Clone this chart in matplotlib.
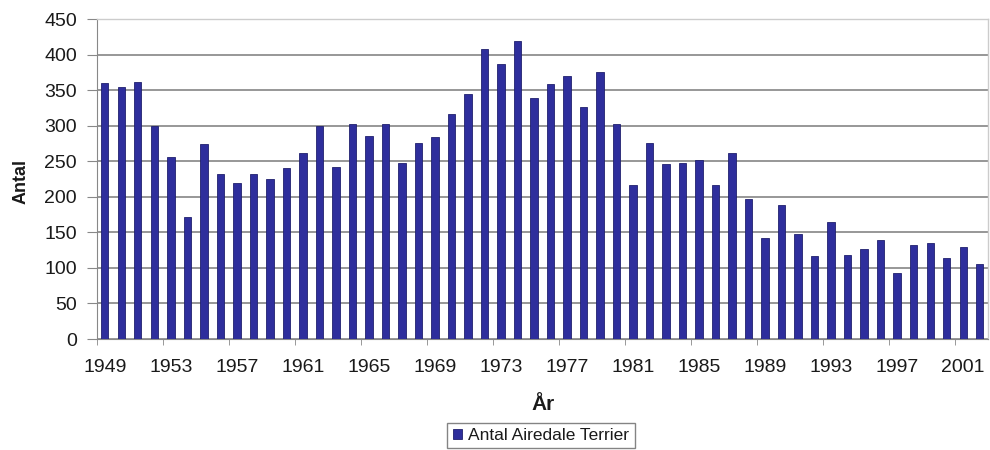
import matplotlib

matplotlib.use("Agg")
import matplotlib.pyplot as plt
import numpy as np
from matplotlib.ticker import FixedLocator

plt.rcParams["font.family"] = ["Liberation Sans", "DejaVu Sans"]

# Airedale terrier registrations per year
years = list(range(1949, 2003))
counts = [
    360, 355, 361, 300, 256, 171, 274, 232, 219, 232,
    225, 241, 261, 299, 242, 302, 286, 302, 247, 275,
    284, 317, 345, 408, 387, 419, 339, 359, 370, 326,
    375, 303, 217, 276, 246, 247, 252, 217, 261, 197,
    142, 189, 147, 117, 165, 118, 126, 139, 93, 132,
    135, 114, 129, 106,
]
y_ticks = [0, 50, 100, 150, 200, 250, 300, 350, 400, 450]
series_name = "Antal Airedale Terrier"

BAR_COLOR = "#2E2E9C"
GRID_COLOR = "#7a7a7a"
TEXT_COLOR = "#1a1a1a"

W, H = 990, 450
fig = plt.figure(figsize=(W / 100, H / 100), dpi=100)
ax = fig.add_axes([96.5 / W, 1 - 339 / H, 891.5 / W, 320 / H])

x = np.arange(len(years))
ax.bar(x, counts, width=0.45, color=BAR_COLOR, edgecolor="#20206e",
       linewidth=0.6, label=series_name, zorder=3)

ax.set_xlim(-0.5, len(years) - 0.5)
ax.set_ylim(0, 450)
ax.set_yticks(y_ticks)
ax.yaxis.grid(True, color=GRID_COLOR, linewidth=1.1, zorder=0)
ax.set_axisbelow(True)

# labels every 4th year at bar centres, tick marks at category boundaries
label_idx = x[::4]
ax.set_xticks(label_idx)
ax.set_xticklabels([str(years[i]) for i in label_idx])
ax.xaxis.set_minor_locator(FixedLocator(np.arange(-0.5, len(years), 4)))
ax.tick_params(axis="x", which="major", length=0, pad=14.5, labelsize=14,
               labelcolor=TEXT_COLOR)
ax.tick_params(axis="x", which="minor", length=4, color="#888888")
ax.tick_params(axis="y", length=7, color="#888888", labelsize=14, pad=7,
               labelcolor=TEXT_COLOR)

for side in ("top", "right"):
    ax.spines[side].set_color("#cccccc")
    ax.spines[side].set_linewidth(1.0)
ax.spines["left"].set_color("#888888")
ax.spines["bottom"].set_color("#888888")

fig.text(21 / W, 1 - 182 / H, "Antal", rotation=90, ha="center", va="center",
         fontsize=13, fontweight="bold", color=TEXT_COLOR)
fig.text(543 / W, 1 - 405 / H, "År", ha="center", va="center",
         fontsize=15, fontweight="bold", color=TEXT_COLOR)

leg = fig.legend(loc="center", bbox_to_anchor=(541 / W, 1 - 435.5 / H),
                 fontsize=12.5, frameon=True, fancybox=False, edgecolor="#666666",
                 handlelength=0.55, handleheight=0.55, handletextpad=0.35,
                 borderpad=0.3, labelcolor=TEXT_COLOR)
leg.get_frame().set_linewidth(1.0)

fig.savefig("out.png", dpi=100)
